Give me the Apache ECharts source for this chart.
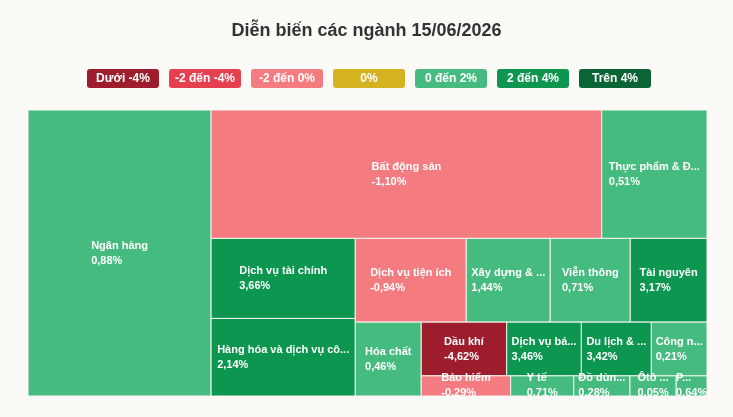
<!DOCTYPE html>
<html>
<head>
<meta charset="utf-8">
<title>Diễn biến các ngành</title>
<script src="https://cdn.jsdelivr.net/npm/echarts@6/dist/echarts.min.js"></script>
<style>
  html, body {margin: 0; padding: 0; background: #fbfaf7;}
  #main {width: 733px; height: 417px;}
</style>
</head>
<body>
<div id="main"></div>
<script>
// du lieu nganh, sap theo ty trong giam dan
const sectors = ['Ngân hàng', 'Bất động sản', 'Thực phẩm & Đồ uống', 'Dịch vụ tài chính',
  'Hàng hóa và dịch vụ công nghiệp', 'Dịch vụ tiện ích', 'Xây dựng & Vật liệu', 'Viễn thông',
  'Tài nguyên', 'Hóa chất', 'Dầu khí', 'Dịch vụ bán lẻ', 'Du lịch & Giải trí', 'Công nghệ thông tin',
  'Bảo hiểm', 'Y tế', 'Đồ dùng cá nhân và gia dụng', 'Ôtô & linh kiện', 'Phương tiện truyền thông'];
const weights = [5234, 5013, 1351, 1154, 1118, 929, 703, 670, 642, 487, 459, 401, 376, 299, 180, 127, 113, 93, 62];
const changes = [0.88, -1.10, 0.51, 3.66, 2.14, -0.94, 1.44, 0.71, 3.17, 0.46, -4.62, 3.46, 3.42, 0.21, -0.29, 0.71, 0.28, 0.05, 0.64];

const legendNames = ['Dưới -4%', '-2 đến -4%', '-2 đến 0%', '0%', '0 đến 2%', '2 đến 4%', 'Trên 4%'];
const legendColors = ['#9d1d2c', '#e4404f', '#f47c80', '#d5b320', '#46bb7f', '#0c9650', '#0a6434'];

const FONT_FAMILY = 'Arial, "Liberation Sans", sans-serif';
const LABEL_FONT = 'bold 11px ' + FONT_FAMILY;

function colorOf(v) {       // chon mau theo khoang bien dong
  if (v < -4) return legendColors[0];
  if (v < -2) return legendColors[1];
  if (v < 0) return legendColors[2];
  if (v === 0) return legendColors[3];
  if (v < 2) return legendColors[4];
  if (v < 4) return legendColors[5];
  return legendColors[6];
}

function fmtPct(v) {
  return v.toFixed(2).replace('.', ',') + '%';
}

const measureCtx = document.createElement('canvas').getContext('2d');
function measure(s) {
  measureCtx.font = LABEL_FONT;
  return measureCtx.measureText(s).width;
}

function fitText(s, maxW) {      // cat bot ten nganh neu o qua hep
  if (measure(s) <= maxW) return s;
  let n = s.length;
  while (n > 1 && measure(s.slice(0, n) + '...') > maxW) n--;
  return s.slice(0, n) + '...';
}

// squarified, doi huong sau moi nhom (doc -> ngang -> doc ...)
function squarify(vals, W, H) {
  const total = vals.reduce((a, b) => a + b, 0);
  const areas = vals.map(v => v / total * W * H);
  const out = [];
  const ratio = (a, b) => Math.max(a / b, b / a);
  let rx = 0, ry = 0, rw = W, rh = H, dir = 0;
  let row = [], rowSum = 0;

  function place(last) {
    if (dir === 0) {
      const t = last ? rw : rowSum / rh;
      let cy = ry;
      row.forEach(a => { const h = a / t; out.push({x: rx, y: cy, w: t, h: h}); cy += h; });
      rx += t; rw -= t;
    } else {
      const t = last ? rh : rowSum / rw;
      let cx = rx;
      row.forEach(a => { const w = a / t; out.push({x: cx, y: ry, w: w, h: t}); cx += w; });
      ry += t; rh -= t;
    }
    dir = 1 - dir;
    row = []; rowSum = 0;
  }

  areas.forEach(a => {
    if (row.length) {
      const p = row[row.length - 1];
      const side = dir === 0 ? rh : rw;
      const oldT = rowSum / side, newT = (rowSum + a) / side;
      if (ratio(newT, p / newT) > ratio(oldT, p / oldT)) place(false);
    }
    row.push(a); rowSum += a;
  });
  if (row.length) place(true);
  return out;
}

let layoutCache = null;
function renderTile(params, api) {
  const cs = params.coordSys;
  const key = cs.width + 'x' + cs.height;
  if (!layoutCache || layoutCache.key !== key) {
    layoutCache = {key: key, rects: squarify(weights, cs.width, cs.height)};
  }
  const idx = params.dataIndex;
  const r = layoutCache.rects[idx];
  // quy ve don vi truc 0..1 roi de truc tinh ra pixel
  const p0 = api.coord([r.x / cs.width, r.y / cs.height]);
  const p1 = api.coord([(r.x + r.w) / cs.width, (r.y + r.h) / cs.height]);
  const w = p1[0] - p0[0], h = p1[1] - p0[1];
  const chg = api.value(1);
  const name = fitText(sectors[idx], w - 8);
  const val = fmtPct(chg);
  const bw = Math.max(measure(name), measure(val));
  return {
    type: 'group',
    children: [{
      type: 'rect',
      shape: {x: p0[0], y: p0[1], width: w, height: h},
      style: {fill: colorOf(chg), stroke: '#f3f3ef', lineWidth: 1}
    }, {
      type: 'text',
      z2: 10,
      style: {
        text: name + '\n' + val,
        x: p0[0] + w / 2 - bw / 2,
        y: p0[1] + h / 2,
        align: 'left',
        verticalAlign: 'middle',
        fill: '#ffffff',
        font: LABEL_FONT,
        lineHeight: 15
      }
    }]
  };
}

const legendRich = {};
legendNames.forEach((n, i) => {
  legendRich['c' + i] = {
    width: 72, height: 19, lineHeight: 19, align: 'center',
    backgroundColor: legendColors[i], borderRadius: 3,
    color: '#fff', fontSize: 12, fontWeight: 'bold', fontFamily: FONT_FAMILY
  };
});

const chart = echarts.init(document.getElementById('main'));
chart.setOption({
  backgroundColor: '#fbfaf7',
  animation: false,
  title: {
    text: 'Diễn biến các ngành 15/06/2026',
    left: 'center',
    top: 17,
    textStyle: {fontSize: 18, fontWeight: 'bold', color: '#333333', fontFamily: FONT_FAMILY}
  },
  legend: {
    top: 64,
    left: 'center',
    icon: 'none',
    itemWidth: 0,
    itemHeight: 19,
    itemGap: 5,
    selectedMode: false,
    data: legendNames,
    formatter: name => '{c' + legendNames.indexOf(name) + '|' + name + '}',
    textStyle: {rich: legendRich}
  },
  grid: {left: 28, right: 26, top: 110, bottom: 21},
  xAxis: {type: 'value', min: 0, max: 1, show: false},
  yAxis: {type: 'value', min: 0, max: 1, inverse: true, show: false},
  series: [{
    type: 'custom',
    name: 'nganh',
    silent: true,
    clip: true,
    renderItem: renderTile,
    encode: {x: -1, y: -1},
    data: sectors.map((n, i) => ({name: n, value: [weights[i], changes[i]]}))
  }].concat(legendNames.map((n, i) => ({
    type: 'line', name: n, data: [], itemStyle: {color: legendColors[i]}
  })))
});
</script>
</body>
</html>
